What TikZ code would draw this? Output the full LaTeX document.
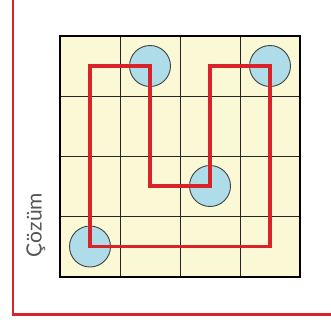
\documentclass[tikz,border=0pt]{standalone}
\usepackage{fontspec}
\setmainfont{Lato}
\definecolor{cream}{HTML}{FBF8D6}
\definecolor{ballblue}{HTML}{AEDDE9}
\definecolor{pathred}{HTML}{D9232B}
\definecolor{textgray}{HTML}{555555}
\begin{document}
\begin{tikzpicture}[x=1pt,y=-1pt,
  ball/.style={circle,draw=black!75,line width=0.9pt,fill=ballblue,minimum size=41pt,inner sep=0pt},
  gridline/.style={draw=black!85,line width=0.9pt},
  frameline/.style={draw=pathred,line width=2.4pt},
  route/.style={draw=pathred,line width=3.6pt,line join=miter}]
\useasboundingbox (0,0) rectangle (331,322);
\fill[white] (0,0) rectangle (331,322);
% outer red frame
\coordinate (ftop) at (13,0);
\coordinate (fcorner) at (13,314.5);
\coordinate (fright) at (331,314.5);
\draw[frameline] (ftop) -- (fcorner) -- (fright);
% board
\fill[cream] (60,36) rectangle (300,277);
\foreach \i in {1,2,3} {
  \draw[gridline] (60+60*\i,36) -- (60+60*\i,277);
  \draw[gridline] (60,36+60.25*\i) -- (300,36+60.25*\i);
}
\draw[black,line width=2pt] (60,36) rectangle (300,277);
% balls
\node[ball] (c1) at (150,66) {};
\node[ball] (c2) at (270,66) {};
\node[ball] (c3) at (210,186) {};
\node[ball] (c4) at (90,246.5) {};
% route
\coordinate (tl) at (c4 |- c1);
\draw[route] (tl) -- (c1.center) |- (c3.center) |- (c2.center) |- (c4.center) -- cycle;
% label
\node[rotate=90,text=textgray,font=\fontsize{21}{21}\selectfont,inner sep=0pt] (lab) at (36,225) {Çözüm};
\end{tikzpicture}
\end{document}
